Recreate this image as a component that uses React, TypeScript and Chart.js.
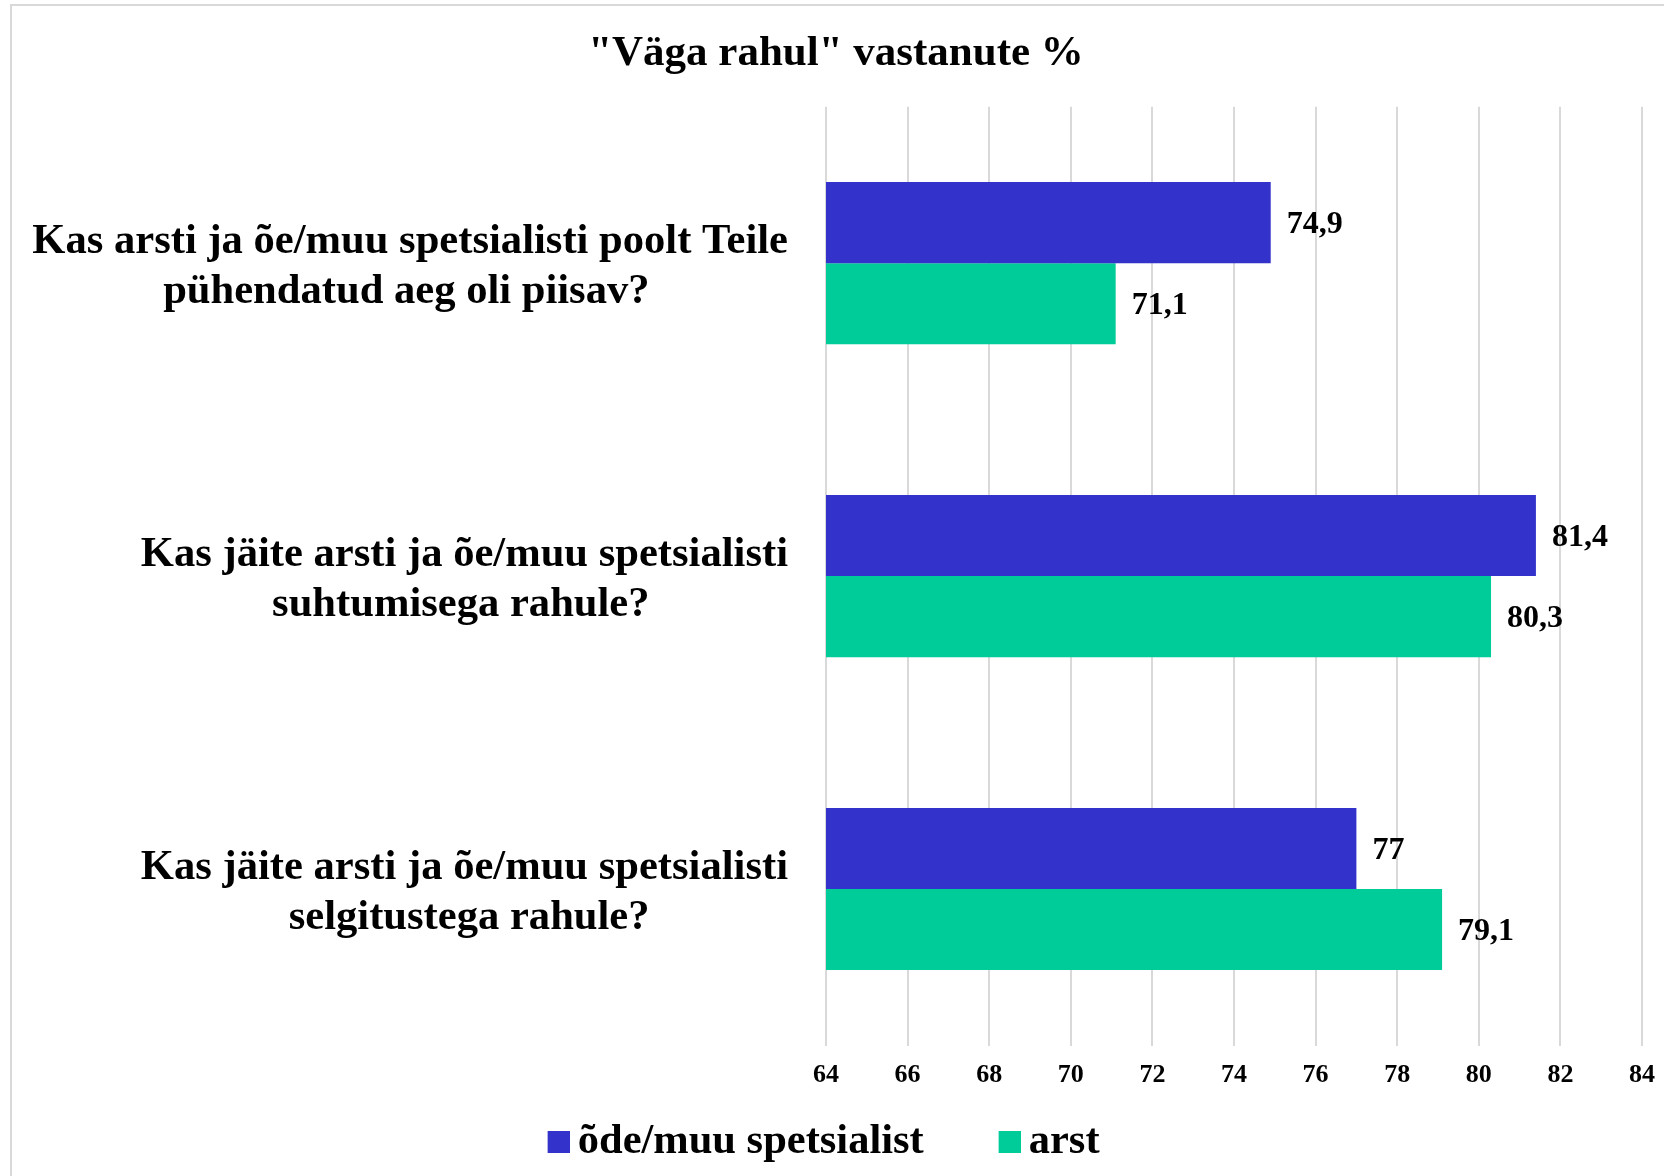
import React, { useEffect, useRef } from 'react';
import { Chart, registerables } from 'chart.js';

Chart.register(...registerables);

const chartTitle = '"Väga rahul" vastanute %';
const categories: string[][] = [
  ['Kas arsti ja õe/muu spetsialisti poolt Teile', 'pühendatud aeg oli piisav?'],
  ['Kas jäite arsti ja õe/muu spetsialisti', 'suhtumisega rahule?'],
  ['Kas jäite arsti ja õe/muu spetsialisti', 'selgitustega rahule?'],
];
const seriesNames = ['õde/muu spetsialist', 'arst'];
const nurseValues = [74.9, 81.4, 77];
const doctorValues = [71.1, 80.3, 79.1];
const xMin = 64;
const xMax = 84;
const xStep = 2;

const FONT = "'Liberation Serif', 'Times New Roman', serif";
const BLUE = '#3333CC';
const GREEN = '#00CC99';

const PAD_L = 30;
const PAD_R = 22;
const PLOT_LEFT = 826;
const LABEL_FONT = 42.6;
const LEGEND_FONT = 42.5;
const LEGEND_PAD = 36;
const LEGEND_TEXT1_X = 580;
const LEGEND_TEXT2_X = 1031;

function measurer(size: number) {
  const m = document.createElement('canvas').getContext('2d')!;
  m.font = `bold ${size}px ${FONT}`;
  return m;
}

// each two-line label is centred within its own block while the block stays right-aligned
function buildLabels(): string[][] {
  const m = measurer(LABEL_FONT);
  const sp = m.measureText(' ').width || 10.5;
  return categories.map((lines) => {
    const widths = lines.map((l) => m.measureText(l).width);
    const maxW = Math.max(...widths);
    return lines.map((l, i) => l + ' '.repeat(Math.round((maxW - widths[i]) / 2 / sp)));
  });
}

function legendGeometry() {
  const m = measurer(LEGEND_FONT);
  const t1 = m.measureText(seriesNames[0]).width;
  const t2 = m.measureText(seriesNames[1]).width;
  const sp = m.measureText(' ').width || 10.5;
  const half = LEGEND_FONT / 2;
  const box = Math.max(1, LEGEND_TEXT2_X - LEGEND_TEXT1_X - t1 - LEGEND_PAD - half);
  const centre = (PAD_L + 1664 - PAD_R) / 2;
  const extra = 2 * (centre - LEGEND_TEXT1_X) - t1 - t2 - LEGEND_PAD;
  const n = Math.max(0, Math.round(extra / sp));
  return { box, n, half };
}

function makeSwatch(color: string, box: number, half: number): HTMLCanvasElement {
  const c = document.createElement('canvas');
  const w = Math.round(box + 2 * (half - 8));
  c.width = w;
  c.height = 22;
  const g = c.getContext('2d')!;
  g.fillStyle = color;
  g.fillRect(w - 22, 0, 22, 22);
  return c;
}

const valueLabels = {
  id: 'valueLabels',
  afterDatasetsDraw(chart: any) {
    const ctx = chart.ctx;
    ctx.save();
    ctx.font = `bold 32px ${FONT}`;
    ctx.fillStyle = '#000';
    ctx.textAlign = 'left';
    ctx.textBaseline = 'middle';
    chart.data.datasets.forEach((ds: any, di: number) => {
      const meta = chart.getDatasetMeta(di);
      meta.data.forEach((bar: any, i: number) => {
        const v = ds.data[i] as number;
        ctx.fillText(String(v).replace('.', ','), bar.x + 16, bar.y + 2);
      });
    });
    ctx.restore();
  },
};

export default function App() {
  const ref = useRef<HTMLCanvasElement | null>(null);

  useEffect(() => {
    if (!ref.current) return;
    const geo = legendGeometry();
    const swatches = [makeSwatch(BLUE, geo.box, geo.half), makeSwatch(GREEN, geo.box, geo.half)];
    const labels = buildLabels();
    const chart = new Chart(ref.current, {
      type: 'bar',
      data: {
        labels,
        datasets: [
          {
            label: seriesNames[0],
            data: nurseValues,
            backgroundColor: BLUE,
            borderWidth: 0,
            barPercentage: 1,
            categoryPercentage: 0.518,
          },
          {
            label: seriesNames[1],
            data: doctorValues,
            backgroundColor: GREEN,
            borderWidth: 0,
            barPercentage: 1,
            categoryPercentage: 0.518,
          },
        ],
      },
      options: {
        indexAxis: 'y',
        responsive: false,
        animation: false,
        devicePixelRatio: 1,
        layout: { padding: { left: PAD_L, right: PAD_R, top: 0, bottom: 2.5 } },
        scales: {
          x: {
            type: 'linear',
            min: xMin,
            max: xMax,
            afterFit: (s: any) => {
              s.height = 39.5;
              s.paddingLeft = 0;
              s.paddingRight = 0;
            },
            grid: { color: '#d9d9d9', lineWidth: 2, drawTicks: false },
            border: { display: false },
            ticks: {
              stepSize: xStep,
              padding: 14.5,
              color: '#000',
              maxRotation: 0,
              autoSkip: false,
              font: { family: FONT, size: 26, weight: 'bold', lineHeight: 1.2 },
            },
          },
          y: {
            type: 'category',
            afterFit: (s: any) => {
              s.width = PLOT_LEFT - PAD_L;
              s.paddingTop = 0;
              s.paddingBottom = 0;
            },
            grid: { display: false, drawTicks: false },
            border: { display: false },
            ticks: {
              padding: 38,
              labelOffset: 3.5,
              color: '#000',
              autoSkip: false,
              font: { family: FONT, size: LABEL_FONT, weight: 'bold', lineHeight: 1.175 },
            },
          },
        },
        plugins: {
          title: {
            display: true,
            text: chartTitle,
            color: '#000',
            font: { family: FONT, size: 43, weight: 'bold', lineHeight: 1.2 },
            padding: { top: 28.5, bottom: 26.6 },
          },
          legend: {
            position: 'bottom',
            labels: {
              usePointStyle: true,
              pointStyleWidth: geo.box,
              boxHeight: 22,
              padding: LEGEND_PAD,
              color: '#000',
              font: { family: FONT, size: LEGEND_FONT, weight: 'bold', lineHeight: 1.2 },
              generateLabels: (c: any) => {
                const items = (Chart.defaults.plugins.legend.labels as any).generateLabels(c);
                return items.map((it: any, i: number) => ({
                  ...it,
                  text: i === items.length - 1 ? it.text + ' '.repeat(geo.n) : it.text,
                  pointStyle: swatches[i],
                }));
              },
            },
          },
          tooltip: { enabled: false },
        },
      } as any,
      plugins: [valueLabels],
    });
    return () => chart.destroy();
  }, []);

  return (
    <div style={{ position: 'absolute', left: 0, top: 0, width: 1664, height: 1176, background: '#fff', overflow: 'hidden' }}>
      <div
        style={{
          position: 'absolute',
          left: 10,
          top: 4,
          right: -10,
          bottom: -10,
          borderLeft: '2px solid #d9d9d9',
          borderTop: '2px solid #d9d9d9',
        }}
      />
      <canvas ref={ref} width={1664} height={1176} style={{ position: 'absolute', left: 0, top: 0, display: 'block' }} />
    </div>
  );
}
